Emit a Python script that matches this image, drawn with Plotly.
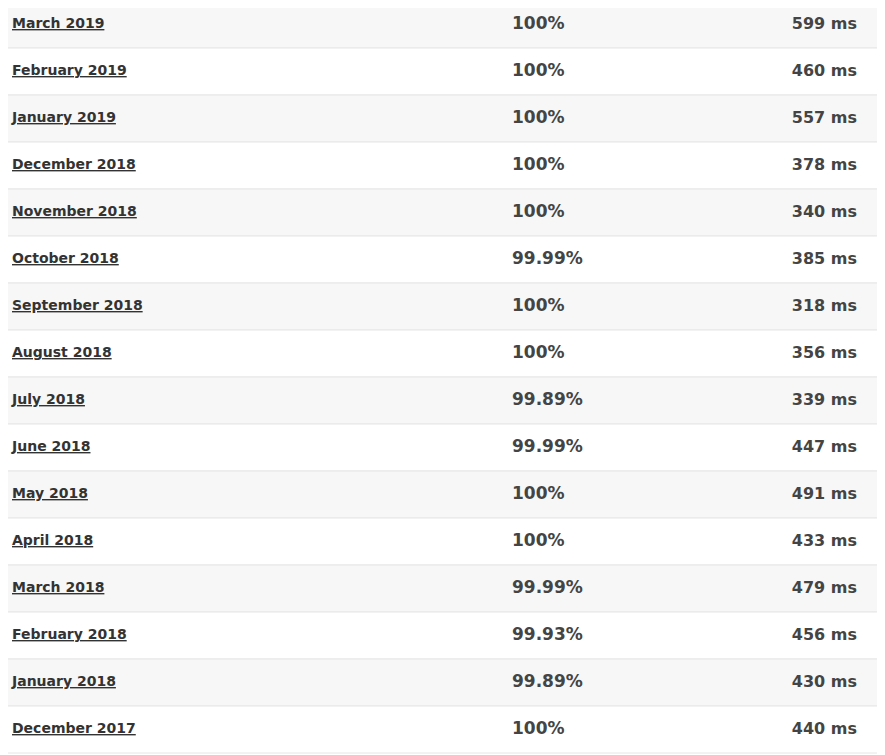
import plotly.graph_objects as go

months = ["March 2019","February 2019","January 2019","December 2018","November 2018","October 2018",
          "September 2018","August 2018","July 2018","June 2018","May 2018","April 2018",
          "March 2018","February 2018","January 2018","December 2017"]
uptime = ["100%","100%","100%","100%","100%","99.99%","100%","100%","99.89%","99.99%","100%","100%",
          "99.99%","99.93%","99.89%","100%"]
resp_ms = [599,460,557,378,340,385,318,356,339,447,491,433,479,456,430,440]

n = len(months)
rows = list(range(n))
fills = ["#f7f7f7" if i % 2 == 0 else "#ffffff" for i in rows]
FONT = "DejaVu Sans"
OFF = 8  # page body margin compensation
ROWH = 47.0

fig = go.Figure()
fig.add_trace(go.Bar(y=rows, x=[900]*n, base=0, orientation="h", width=1,
                     marker=dict(color=fills, line=dict(color="#e6e6e6", width=1)),
                     hoverinfo="skip"))
fig.add_trace(go.Scatter(y=rows, x=[12]*n, mode="text",
                         text=[f"<b><span style='text-decoration:underline'>{m}</span></b>" for m in months],
                         textposition="middle right",
                         textfont=dict(family=FONT, size=14, color="#333333"), hoverinfo="skip"))
fig.add_trace(go.Scatter(y=rows, x=[512]*n, mode="text",
                         text=[f"<b>{u}</b>" for u in uptime], textposition="middle right",
                         textfont=dict(family=FONT, size=17, color="#444444"), hoverinfo="skip"))
fig.add_trace(go.Scatter(y=rows, x=[857]*n, mode="text",
                         text=[f"<b>{v} ms</b>" for v in resp_ms], textposition="middle left",
                         textfont=dict(family=FONT, size=16, color="#444444"), hoverinfo="skip"))

top = -0.5 + (OFF - 1) / ROWH
fig.update_layout(width=885, height=755, margin=dict(l=0, r=0, t=0, b=0),
                  paper_bgcolor="white", plot_bgcolor="white", showlegend=False,
                  xaxis=dict(range=[OFF, 885 + OFF], visible=False, fixedrange=True),
                  yaxis=dict(range=[top + 755 / ROWH, top], visible=False, fixedrange=True))
fig.write_html("out.html", config={"displayModeBar": False})
